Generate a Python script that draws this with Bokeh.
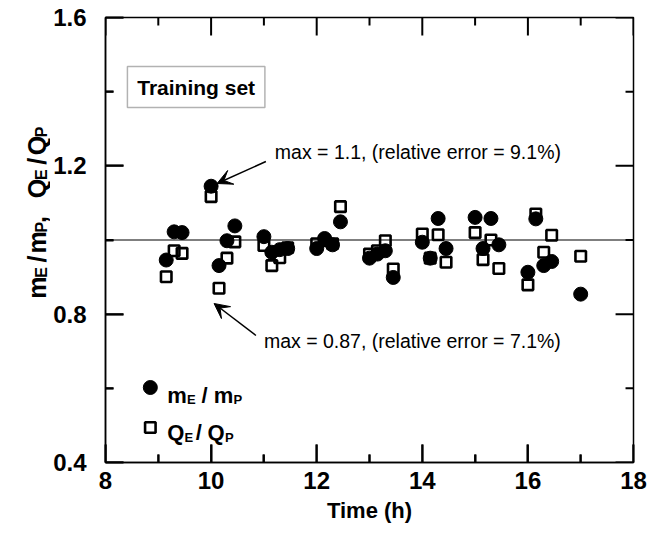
from bokeh.plotting import figure
from bokeh.layouts import row
from bokeh.models import Range1d, Span, Label, Arrow, VeeHead, BoxAnnotation, FixedTicker
from bokeh.embed import file_html
from bokeh.resources import INLINE

# Sampling times (h)
time_h = [9.15, 9.30, 9.45, 10.00, 10.15, 10.30, 10.45, 11.00, 11.15, 11.30, 11.45,
          12.00, 12.15, 12.30, 12.45, 13.00, 13.15, 13.30, 13.45, 14.00, 14.15, 14.30,
          14.45, 15.00, 15.15, 15.30, 15.45, 16.00, 16.15, 16.30, 16.45, 17.00]

# Estimated / predicted mass ratio
m_ratio = [0.946, 1.022, 1.020, 1.145, 0.931, 0.998, 1.038, 1.009, 0.967, 0.974, 0.977,
           0.977, 1.004, 0.987, 1.049, 0.951, 0.962, 0.971, 0.899, 0.994, 0.951, 1.058,
           0.977, 1.061, 0.977, 1.058, 0.987, 0.913, 1.057, 0.931, 0.942, 0.854]

# Estimated / predicted flow ratio
q_ratio = [0.901, 0.971, 0.964, 1.117, 0.870, 0.951, 0.995, 0.985, 0.931, 0.952, 0.979,
           0.990, 0.998, 0.990, 1.090, 0.962, 0.971, 0.998, 0.922, 1.016, 0.951, 1.014,
           0.940, 1.020, 0.947, 1.000, 0.923, 0.879, 1.070, 0.967, 1.013, 0.956]

x_major = [8, 10, 12, 14, 16, 18]
x_minor = [9, 11, 13, 15, 17]
y_major = [0.4, 0.8, 1.2, 1.6]
y_minor = [0.6, 1.0, 1.4]

FONT = "Liberation Sans"
X0, X1, Y0, Y1 = 8, 18, 0.4, 1.6

# canvas geometry
TITLE_W = 50            # strip holding the vertical axis title
FRAME_L, FRAME_R = 103, 633
FRAME_T, FRAME_B = 17, 462
PX_X = (FRAME_R - FRAME_L) / (X1 - X0)   # pixels per hour
PX_Y = (FRAME_B - FRAME_T) / (Y1 - Y0)   # pixels per ratio unit

p = figure(width=648 - TITLE_W, height=534, x_range=Range1d(X0, X1), y_range=Range1d(Y0, Y1),
           output_backend="svg", toolbar_location=None,
           min_border_left=FRAME_L - TITLE_W, min_border_right=648 - FRAME_R,
           min_border_top=FRAME_T, min_border_bottom=534 - FRAME_B)
p.xgrid.visible = False
p.ygrid.visible = False
p.outline_line_color = "black"
p.outline_line_width = 1.5

MAJ, MIN = 18, 8
for ax, ticks, minor, standoff in ((p.xaxis[0], x_major, x_minor, 9),
                                   (p.yaxis[0], y_major, y_minor, 19)):
    ax.ticker = FixedTicker(ticks=ticks, minor_ticks=minor)
    ax.major_tick_in = MAJ
    ax.major_tick_out = 0
    ax.minor_tick_in = MIN
    ax.minor_tick_out = 0
    ax.major_tick_line_width = 2
    ax.minor_tick_line_width = 2
    ax.major_tick_line_color = "black"
    ax.minor_tick_line_color = "black"
    ax.axis_line_width = 1.5
    ax.axis_line_color = "black"
    ax.major_label_text_font = FONT
    ax.major_label_text_font_size = "24px"
    ax.major_label_text_font_style = "bold"
    ax.major_label_text_color = "black"
    ax.major_label_standoff = standoff

p.xaxis.axis_label = "Time (h)"
p.xaxis.axis_label_text_font = FONT
p.xaxis.axis_label_text_font_size = "22px"
p.xaxis.axis_label_text_font_style = "bold"
p.xaxis.axis_label_text_color = "black"
p.xaxis.axis_label_standoff = 6

# Inward tick marks on all four sides of the frame
tx0, ty0, tx1, ty1 = [], [], [], []
for t in x_major + x_minor:
    L = (MAJ if t in x_major else MIN) / PX_Y
    tx0 += [t, t]
    ty0 += [Y0, Y1]
    tx1 += [t, t]
    ty1 += [Y0 + L, Y1 - L]
for t in y_major + y_minor:
    L = (MAJ if t in y_major else MIN) / PX_X
    tx0 += [X0, X1]
    ty0 += [t, t]
    tx1 += [X0 + L, X1 - L]
    ty1 += [t, t]
p.segment(x0=tx0, y0=ty0, x1=tx1, y1=ty1, line_color="black", line_width=2)

# Reference line at ratio = 1
p.add_layout(Span(location=1.0, dimension="width", line_color="black", line_width=1.2))

# Data
p.scatter(time_h, m_ratio, marker="circle", size=14, fill_color="black", line_color="black")
p.scatter(time_h, q_ratio, marker="square", size=10.5, fill_color=None,
          line_color="black", line_width=2.6)


def px_to_x(px):
    return X0 + (px - FRAME_L) / PX_X


def px_to_y(py):
    return Y0 + (FRAME_B - py) / PX_Y


# "Training set" box
p.add_layout(BoxAnnotation(left=px_to_x(125), right=px_to_x(263),
                           top=px_to_y(66), bottom=px_to_y(107),
                           fill_color="white", fill_alpha=1.0,
                           line_color="black", line_width=1.5))
p.add_layout(Label(x=px_to_x(194), y=px_to_y(87), text="Training set", text_align="center",
                   text_baseline="middle", text_font=FONT, text_font_size="21px",
                   text_font_style="bold", text_color="black"))

# Annotations with arrows
p.add_layout(Label(x=px_to_x(273), y=px_to_y(151), text="max = 1.1, (relative error = 9.1%)",
                   text_align="left", text_baseline="middle", text_font=FONT,
                   text_font_size="19.5px", text_color="black"))
p.add_layout(Arrow(x_start=px_to_x(264), y_start=px_to_y(161),
                   x_end=px_to_x(215), y_end=px_to_y(183),
                   line_color="black", line_width=1.5,
                   end=VeeHead(size=15, fill_color="black", line_color="black")))
p.add_layout(Label(x=px_to_x(262), y=px_to_y(340), text="max = 0.87, (relative error = 7.1%)",
                   text_align="left", text_baseline="middle", text_font=FONT,
                   text_font_size="19.5px", text_color="black"))
p.add_layout(Arrow(x_start=px_to_x(254), y_start=px_to_y(335),
                   x_end=px_to_x(212), y_end=px_to_y(303),
                   line_color="black", line_width=1.5,
                   end=VeeHead(size=15, fill_color="black", line_color="black")))


def frag(fig, text, x, y, size, angle=0.0, align="left"):
    fig.add_layout(Label(x=x, y=y, text=text, angle=angle, angle_units="deg",
                         text_align=align, text_baseline="alphabetic", text_font=FONT,
                         text_font_size=size, text_font_style="bold", text_color="black"))


# Legend swatches
p.scatter([px_to_x(148)], [px_to_y(387)], marker="circle", size=14,
          fill_color="black", line_color="black")
p.scatter([px_to_x(148)], [px_to_y(427)], marker="square", size=10.5, fill_color=None,
          line_color="black", line_width=2.6)

# Legend text with subscripts
for text, x, y, size in (("m", 165, 395, "22px"), ("E", 184.8, 399, "13px"),
                         ("/", 199.4, 395, "22px"), ("m", 211.6, 395, "22px"),
                         ("P", 231.5, 399, "13px"),
                         ("Q", 165, 432, "22px"), ("E", 182.4, 437, "13px"),
                         ("/", 193.5, 432, "22px"), ("Q", 205.5, 432, "22px"),
                         ("P", 222.9, 437, "13px")):
    frag(p, text, px_to_x(x), px_to_y(y), size)

# Vertical axis title strip (coordinates in canvas pixels); each fragment is
# anchored at its upper end and reads bottom to top
yt = figure(width=TITLE_W, height=534, x_range=Range1d(0, TITLE_W), y_range=Range1d(534, 0),
            output_backend="svg", toolbar_location=None, min_border=0,
            x_axis_type=None, y_axis_type=None)
yt.xgrid.visible = False
yt.ygrid.visible = False
yt.outline_line_color = None
BX, SX = 36, 41
for text, x, y, size in (("m", BX, 310.8, "25px"), ("E", SX, 299.6, "16px"),
                         ("/", BX, 285.75, "25px"), ("m", BX, 256.5, "25px"),
                         ("P", SX, 245.3, "16px"), (",", BX, 238.35, "25px"),
                         ("Q", BX, 193.55, "25px"), ("E", SX, 182.3, "16px"),
                         ("/", BX, 168.45, "25px"), ("Q", BX, 142.05, "25px"),
                         ("P", SX, 130.8, "16px")):
    frag(yt, text, x, y, size, 90, "right")

layout = row(yt, p, spacing=0)
open("out.html", "w").write(file_html(layout, INLINE))
